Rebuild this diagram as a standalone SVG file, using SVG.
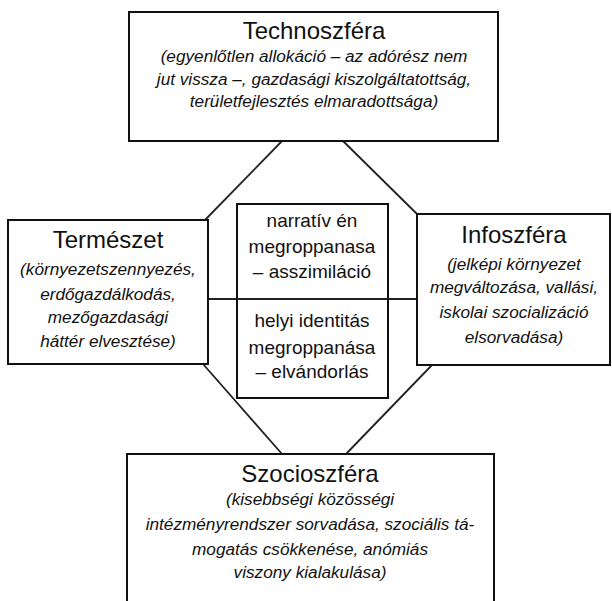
<svg xmlns="http://www.w3.org/2000/svg" width="612" height="601" viewBox="0 0 612 601">
<style>
.box{fill:#fff;stroke:#111;stroke-width:2}
.ln{stroke:#222;stroke-width:1.8;fill:none}
.t{font-family:"Liberation Sans",sans-serif;font-size:24px;fill:#111;text-anchor:middle}
.i{font-family:"Liberation Sans",sans-serif;font-style:italic;font-size:17.2px;fill:#111;text-anchor:middle}
.c{font-family:"Liberation Sans",sans-serif;font-size:19px;fill:#111;text-anchor:middle}
</style>
<rect width="612" height="601" fill="#fff"/>
<g id="connectors">
<line class="ln" x1="282" y1="141" x2="205" y2="220"/>
<line class="ln" x1="343" y1="141" x2="417" y2="214"/>
<line class="ln" x1="203" y1="364" x2="282" y2="454"/>
<line class="ln" x1="432" y1="365" x2="346" y2="454"/>
<line class="ln" x1="208" y1="299" x2="417" y2="299"/>
</g>
<g id="techno">
<rect class="box" x="129" y="12" width="369" height="129"/>
<text class="t" x="314" y="39">Technoszféra</text>
<text class="i" x="314" y="62">(egyenlőtlen allokáció – az adórész nem</text>
<text class="i" x="314" y="85">jut vissza –, gazdasági kiszolgáltatottság,</text>
<text class="i" x="314" y="107">területfejlesztés elmaradottsága)</text>
</g>
<g id="termeszet">
<rect class="box" x="8" y="220" width="200" height="144"/>
<text class="t" x="108" y="248">Természet</text>
<text class="i" x="108" y="275">(környezetszennyezés,</text>
<text class="i" x="108" y="300">erdőgazdálkodás,</text>
<text class="i" x="108" y="323">mezőgazdasági</text>
<text class="i" x="108" y="347">háttér elvesztése)</text>
</g>
<g id="info">
<rect class="box" x="417" y="214" width="193" height="151"/>
<text class="t" x="514" y="243">Infoszféra</text>
<text class="i" x="514" y="270">(jelképi környezet</text>
<text class="i" x="514" y="293">megváltozása, vallási,</text>
<text class="i" x="514" y="318">iskolai szocializáció</text>
<text class="i" x="514" y="343">elsorvadása)</text>
</g>
<g id="center">
<rect class="box" x="237" y="204" width="151" height="194"/>
<line class="ln" x1="237" y1="299" x2="388" y2="299"/>
<text class="c" x="312" y="227">narratív én</text>
<text class="c" x="312" y="253">megroppanasa</text>
<text class="c" x="312" y="278">– asszimiláció</text>
<text class="c" x="312" y="327">helyi identitás</text>
<text class="c" x="312" y="354">megroppanása</text>
<text class="c" x="312" y="378">– elvándorlás</text>
</g>
<g id="szocio">
<rect class="box" x="127" y="454" width="367" height="160"/>
<text class="t" x="310" y="482">Szocioszféra</text>
<text class="i" x="310" y="505">(kisebbségi közösségi</text>
<text class="i" x="310" y="530">intézményrendszer sorvadása, szociális tá-</text>
<text class="i" x="310" y="555">mogatás csökkenése, anómiás</text>
<text class="i" x="310" y="578">viszony kialakulása)</text>
</g>
</svg>
